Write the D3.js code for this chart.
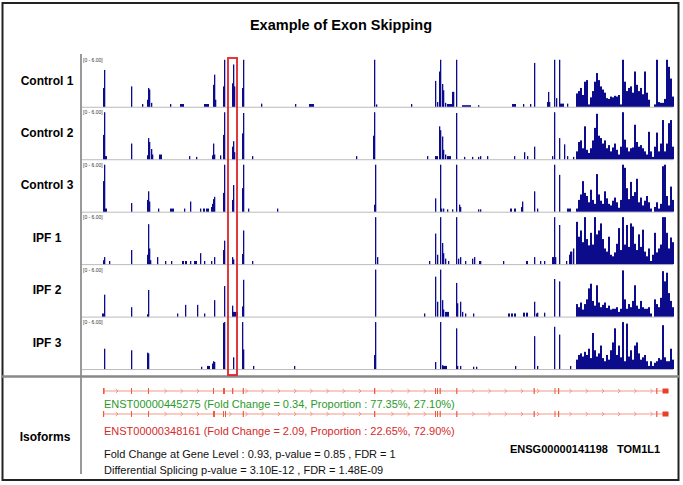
<!DOCTYPE html>
<html>
<head>
<meta charset="utf-8">
<script src="https://cdnjs.cloudflare.com/ajax/libs/d3/7.8.5/d3.min.js"></script>
<style>
  body { margin: 0; background: #fff; }
  svg { display: block; font-family: "Liberation Sans", Arial, sans-serif; }
</style>
</head>
<body>
<div id="chart"></div>
<script>
// sample names (one coverage track each)
const sampleNames = ["Control 1", "Control 2", "Control 3", "IPF 1", "IPF 2", "IPF 3"];

// sparse coverage: [position, reads (0-6 scale), span]
const control1Sparse = [[23,2.4],[24,4.7],[51,2.6],[62,0.35],[67,0.9],[68,2.4],[69,2.2],[71,0.5],[90,0.35],[100,0.35,4],[124,0.35,5],[133,2.8],[134,4.1],[135,0.9],[143,2.6],[144,6],[152,3],[153,5.4],[154,2.6],[162,2.4],[163,6],[181,0.4],[215,0.35],[229,0.35,5],[294,6],[296,0.3],[331,0.35],[355,3.3],[357,0.6],[359,4.5],[360,6],[362,2.9],[363,2.1],[365,0.5],[367,0.35,5],[372,1.9],[373,1.9],[376,6],[382,0.2,9],[398,0.2],[432,0.35,4],[443,0.35],[450,0.35],[454,5.6],[467,0.6],[468,1.9],[469,0.6],[474,6],[476,1.1],[479,6],[480,0.4,4],[487,0.4]];
const control2Sparse = [[23,3.1],[24,6],[25,0.4,2],[51,2.0],[67,0.5],[68,2.7],[69,2.2],[71,1.3],[72,0.6],[79,0.6,3],[109,0.4],[116,0.3],[132,0.5],[133,2.0],[134,0.6],[140,0.5],[143,3.1],[144,6],[152,1.6],[153,2.3],[154,0.9],[162,3.3],[163,5.9],[172,0.4],[276,0.4],[293,3],[294,6],[347,0.4],[355,0.4,3],[359,4.2],[360,3.7],[362,2.9],[363,1.2],[365,0.6],[367,0.4,4],[376,5.9],[384,0.3],[392,0.3],[398,0.3],[400,0.4],[407,0.4],[434,0.4],[444,0.9],[447,0.4],[454,1.6],[472,0.4],[474,6],[479,2.7],[484,1.9],[487,0.4],[493,0.3]];
const control3Sparse = [[23,3.9],[24,6],[25,0.4,2],[51,1.1],[67,1.5],[68,2.6],[69,1.3],[78,0.4],[90,0.4,4],[104,0.4],[110,1.3],[120,0.4],[123,0.4,2],[126,0.4,3],[131,0.6],[132,1.0],[133,1.6],[134,1.9],[143,2.4],[144,6],[152,1.5],[153,3.4],[162,3.0],[163,6],[168,0.4],[197,0.4],[294,0.9],[295,6],[355,1.7],[360,6],[361,0.4],[363,0.4],[367,0.3],[372,0.3],[376,6],[379,0.9],[380,0.6],[398,0.3],[400,0.3],[430,0.4,2],[434,0.4,2],[441,0.6],[442,1.3],[454,2.6],[457,0.4],[474,6],[479,4.7],[487,0.4,4]];
const ipf1Sparse = [[23,0.5],[24,0.9],[29,0.4],[51,1.8],[67,1.2],[68,5.1],[69,2.0],[70,0.5],[77,0.9],[85,0.4],[91,0.4],[102,0.4,2],[105,0.4,2],[110,0.4],[114,0.4,3],[120,1.4],[124,0.4],[131,0.4],[134,0.9],[143,1.8],[144,3.0],[152,0.9],[153,0.6],[162,1.3],[163,4.3],[172,0.4],[295,6],[297,0.9],[349,0.4],[355,3.9],[357,1.2],[360,6],[362,2.7],[363,1.4],[365,0.7],[368,0.4],[376,6],[378,0.7],[380,0.9],[385,0.4],[392,0.7],[394,0.9],[399,0.4],[400,0.4],[423,0.4],[446,0.4,2],[454,0.9],[460,0.4],[464,0.4],[472,0.9,2],[474,6],[475,0.9],[479,5.0],[486,0.4],[489,1.2],[490,1.6],[491,1.6],[493,2.0]];
const ipf2Sparse = [[22,0.4,2],[24,2.8],[51,1.2],[67,0.3],[68,3.4],[97,0.4],[105,1.5],[117,1.5],[124,0.4],[134,2.1],[144,3.9],[152,1.4],[153,0.6,5],[162,1.3],[163,4.7],[295,6],[344,0.4],[355,5.1],[357,1.9],[360,6],[362,2.1],[363,0.9],[365,0.6,4],[376,4.3],[377,1.7],[380,1.9],[382,0.6],[385,0.4],[393,0.4],[428,0.4,2],[431,0.4,2],[434,0.4,2],[443,0.5,2],[446,0.5,2],[454,1.9],[456,0.4],[457,0.5],[464,0.5],[474,4.8],[479,4.5]];
const ipf3Sparse = [[24,2.6],[51,2.4],[67,2.1],[68,2.0],[121,0.3],[127,0.4,3],[132,0.7],[133,1.0],[134,0.9],[143,5.9],[144,6],[153,1.5],[162,6],[163,2.5],[173,0.4],[214,0.4],[294,1.8],[295,6],[355,0.9],[360,6],[362,0.5],[363,0.4,4],[376,5.2],[377,0.4],[380,0.4],[393,0.3],[396,0.3],[435,0.4],[454,4.2],[457,0.4],[474,5.4],[479,4.4],[490,0.4]];

// dense 3' region, one value per 2-position bin starting at denseStart
const denseStart = 496;
const control1Dense = [1.7,2.0,2.4,1.5,3.2,3.4,0.3,1.2,2.0,3.2,4.3,3.4,2.6,2.2,1.8,1.1,1.0,1.3,1.2,1.4,1.3,1.5,0.3,6,3.2,2.0,2.4,2.6,1.8,4.5,2.8,2.0,2.4,1.6,4.5,1.8,0.9,0,0,0.3,6,0.6,0.5,0.5,1.0,6,5.1,3.6,1.3];
const control2Dense = [1.0,2.2,2.4,1.4,4.2,1.2,0.8,1.4,2.4,4.0,5.8,3.0,2.7,2.0,2.4,1.4,1.8,1.0,1.5,2.0,1.2,0.6,1.6,6,2.5,1.5,1.0,1.4,1.5,4.4,2.2,1.6,1.8,1.4,1.0,0.6,3.5,1.0,0.3,1.6,3.4,1.0,2.0,5.0,1.0,2.0,4.6,5.0,1.6];
const control3Dense = [0.4,1.5,2.2,3.9,2.4,2.0,1.2,2.8,1.5,1.0,4.8,2.2,1.4,1.0,2.6,1.7,1.0,0.8,1.4,1.8,1.2,0.5,1.5,6,5.6,3.0,1.6,3.8,2.0,2.5,4.2,1.2,1.8,0.8,1.4,2.0,1.2,0.4,0,0.6,1.2,0.4,1.0,5.8,6,2.0,0.8,3.2,1.5];
const ipf1Dense = [5.4,3.5,4.3,2.8,6,3.2,2.4,4.0,2.5,6,3.8,4.3,5.2,3.2,2.0,1.6,3.5,1.2,1.0,1.5,2.6,4.6,1.8,6,2.5,5.0,2.2,5.2,4.8,2.6,1.8,3.8,2.2,4.4,1.6,1.0,2.0,0.4,1.2,4.0,1.5,2.0,2.5,6,6,4.0,2.0,3.4,2.8];
const ipf2Dense = [1.6,1.2,1.8,0.9,1.6,2.2,3.6,4.2,2.0,1.4,4.0,1.8,1.2,1.5,1.8,1.1,1.4,0.9,1.0,1.0,1.2,0.6,1.0,5.9,2.2,1.0,1.6,1.2,2.0,4.0,1.4,1.0,2.0,1.2,1.0,1.0,1.2,0.4,0,2.2,1.6,1.2,2.4,5.8,4.5,5.6,3.0,2.0,1.2];
const ipf3Dense = [1.2,1.8,2.0,1.6,2.2,1.8,2.6,1.4,4.6,2.4,1.6,2.0,3.0,1.4,1.0,1.8,1.2,2.4,3.4,5.2,1.8,3.0,1.5,6,1.0,5.8,1.6,2.4,1.2,3.0,3.4,2.0,1.2,1.5,1.8,1.0,0.4,1.0,0.4,0.8,1.0,1.4,1.2,5.6,1.5,1.0,1.0,2.6,1.2];

const sparseTracks = [control1Sparse, control2Sparse, control3Sparse, ipf1Sparse, ipf2Sparse, ipf3Sparse];
const denseTracks = [control1Dense, control2Dense, control3Dense, ipf1Dense, ipf2Dense, ipf3Dense];

// isoform exon models: [start, end]
const iso1Exons = [[23,24.6],[51,52],[68,69],[133,134],[143,145],[152,153.3],[162.7,163.9],[294,295.3],[355,356],[357,358],[359.6,360.8],[376.2,377.4],[453.6,454.8],[474.5,475.5],[478,479.2],[576.2,577.4]];
const iso2Exons = [[23,24.2],[51,52],[68,69],[133,135],[143,144],[145,146],[162.7,163.9],[294,295.3],[355,356],[357,358],[359.6,360.8],[376.2,377.4],[453.6,454.8],[474.5,475.5],[478,479.2],[576.2,577.4]];
const utrBlock = [582.5, 588.5];
const geneSpan = [23, 588.5];
const skippedExonBox = [148, 157];

const isoformLabels = [
  "ENST00000445275 (Fold Change = 0.34, Proportion : 77.35%, 27.10%)",
  "ENST00000348161 (Fold Change = 2.09, Proportion : 22.65%, 72.90%)"
];
const statLines = [
  "Fold Change at Gene Level : 0.93, p-value = 0.85 , FDR = 1",
  "Differential Splicing p-value = 3.10E-12 , FDR = 1.48E-09"
];
const geneId = "ENSG00000141198";
const geneName = "TOM1L1";
const rangeLabel = "[0 - 6.00]";

const svgWidth = 683, svgHeight = 485;

const svg = d3.select("#chart")
  .append("svg")
  .attr("width", svgWidth)
  .attr("height", svgHeight);

// frame
svg.append("rect")
  .attr("x", 2.5).attr("y", 3)
  .attr("width", 676).attr("height", 477)
  .attr("fill", "none")
  .attr("stroke", "#222")
  .attr("stroke-width", 2);

svg.append("text")
  .attr("x", 341).attr("y", 30)
  .attr("text-anchor", "middle")
  .attr("font-size", 14.5)
  .attr("font-weight", "bold")
  .text("Example of Exon Skipping");

// scales
const x = d3.scaleLinear().domain([0, 593]).range([80, 673]);
const band = d3.scaleBand().domain(sampleNames).range([54.3, 369.06]);
const trackH = band.bandwidth();
const baseline = name => band(name) + trackH;

const bars = svg.append("g");

sampleNames.forEach((name, i) => {
  const y = d3.scaleLinear().domain([0, 6]).range([baseline(name), baseline(name) - 47]);
  const g = bars.append("g");

  g.append("line")
    .attr("x1", 80).attr("x2", 673)
    .attr("y1", baseline(name) + 0.5).attr("y2", baseline(name) + 0.5)
    .attr("stroke", "#bbb");

  g.selectAll(".sp")
    .data(sparseTracks[i])
    .enter()
    .append("rect")
    .attr("x", d => x(d[0]))
    .attr("width", d => Math.max(1.3, x(d[0] + (d[2] || 1)) - x(d[0])))
    .attr("y", d => y(d[1]))
    .attr("height", d => y(0) - y(d[1]))
    .attr("fill", "#0b0b8c");

  g.selectAll(".dn")
    .data(denseTracks[i])
    .enter()
    .append("rect")
    .attr("x", (d, k) => x(denseStart + 2 * k))
    .attr("width", x(2) - x(0))
    .attr("y", d => y(d))
    .attr("height", d => y(0) - y(d))
    .attr("fill", "#0b0b8c");

  g.append("text")
    .attr("x", 83).attr("y", band(name) + 7.5)
    .attr("font-size", 5)
    .attr("fill", "#333")
    .text(rangeLabel);

  svg.append("text")
    .attr("x", 47).attr("y", band(name) + trackH / 2 + 4)
    .attr("text-anchor", "middle")
    .attr("font-size", 12)
    .attr("font-weight", "bold")
    .text(name);
});

// separators
svg.append("line")
  .attr("x1", 81).attr("x2", 81)
  .attr("y1", 54).attr("y2", 474)
  .attr("stroke", "#999").attr("stroke-width", 2);
svg.append("line")
  .attr("x1", 2).attr("x2", 679)
  .attr("y1", 376.5).attr("y2", 376.5)
  .attr("stroke", "#888").attr("stroke-width", 2.5);

// skipped exon highlight
svg.append("rect")
  .attr("x", x(skippedExonBox[0])).attr("y", 58)
  .attr("width", x(skippedExonBox[1]) - x(skippedExonBox[0]))
  .attr("height", 317)
  .attr("fill", "none")
  .attr("stroke", "#e0242a")
  .attr("stroke-width", 1.8);

// isoform models
function drawIsoform(exons, yc) {
  const g = svg.append("g");
  g.append("line")
    .attr("x1", x(geneSpan[0])).attr("x2", x(geneSpan[1]))
    .attr("y1", yc).attr("y2", yc)
    .attr("stroke", "#f39a88").attr("stroke-width", 1);
  const chev = d3.range(x(geneSpan[0]) + 14, x(utrBlock[0]) - 4, 16.2)
    .filter(cx => exons.every(e => cx < x(e[0]) - 3 || cx > x(e[1]) + 2));
  g.selectAll(".chev")
    .data(chev)
    .enter()
    .append("path")
    .attr("d", cx => `M${cx - 1.2},${yc - 2}L${cx + 1},${yc}L${cx - 1.2},${yc + 2}`)
    .attr("fill", "none")
    .attr("stroke", "#f08a76").attr("stroke-width", 0.9);
  g.selectAll(".ex")
    .data(exons)
    .enter()
    .append("rect")
    .attr("x", d => x(d[0]))
    .attr("width", d => x(d[1]) - x(d[0]))
    .attr("y", yc - 3).attr("height", 6)
    .attr("fill", "#ec5a40");
  g.append("rect")
    .attr("x", x(utrBlock[0]))
    .attr("width", x(utrBlock[1]) - x(utrBlock[0]))
    .attr("y", yc - 2.5).attr("height", 5)
    .attr("fill", "#e8402a");
}
drawIsoform(iso1Exons, 391);
drawIsoform(iso2Exons, 414);

svg.append("text")
  .attr("x", 45).attr("y", 441)
  .attr("text-anchor", "middle")
  .attr("font-size", 12).attr("font-weight", "bold")
  .text("Isoforms");

svg.append("text")
  .attr("x", 104).attr("y", 408)
  .attr("font-size", 11).attr("fill", "#2b9a2b")
  .text(isoformLabels[0]);
svg.append("text")
  .attr("x", 104).attr("y", 435)
  .attr("font-size", 11).attr("fill", "#d42a2a")
  .text(isoformLabels[1]);

statLines.forEach((t, i) => {
  svg.append("text")
    .attr("x", 104).attr("y", 458 + i * 16)
    .attr("font-size", 11).attr("fill", "#111")
    .text(t);
});

svg.append("text")
  .attr("x", 510).attr("y", 453)
  .attr("font-size", 11).attr("font-weight", "bold")
  .text(geneId);
svg.append("text")
  .attr("x", 617).attr("y", 453)
  .attr("font-size", 11).attr("font-weight", "bold")
  .text(geneName);
</script>
</body>
</html>
